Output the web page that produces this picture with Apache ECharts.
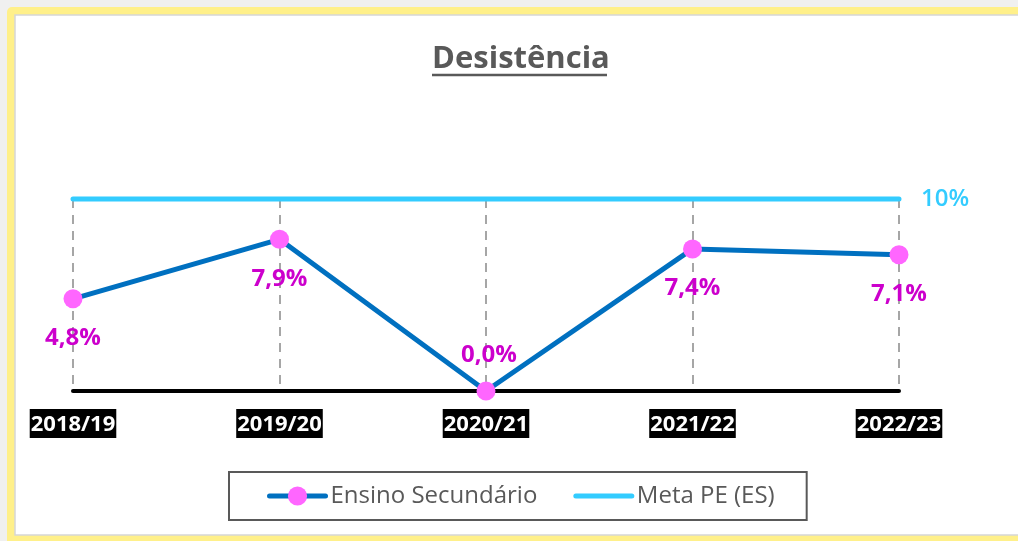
<!DOCTYPE html>
<html>
<head>
<meta charset="utf-8">
<style>
  html, body { margin: 0; padding: 0; background: #f0f0f0; }
  #chart { width: 1018px; height: 541px; }
</style>
<script src="https://cdn.jsdelivr.net/npm/echarts@6/dist/echarts.min.js"></script>
</head>
<body>
<div id="chart"></div>
<script>
// Dropout rate per school year, secondary education, vs. plan target
const categories = ['2018/19', '2019/20', '2020/21', '2021/22', '2022/23'];
const secundario = [4.8, 7.9, 0.0, 7.4, 7.1];
const meta = [10, 10, 10, 10, 10];
const metaLabel = '10%';

const FONT = '"Open Sans", "Noto Sans", sans-serif';
const fmt = v => v.toFixed(1).replace('.', ',') + '%';

const chart = echarts.init(document.getElementById('chart'), null, { renderer: 'canvas' });

chart.setOption({
  animation: false,
  backgroundColor: '#f0f0f0',
  graphic: [
    // yellow frame
    { type: 'rect', z: -10, silent: true,
      shape: { x: 7, y: 7, width: 1030, height: 560, r: 5 },
      style: { fill: '#fff08a' } },
    // white chart area
    { type: 'rect', z: -9, silent: true,
      shape: { x: 15, y: 15, width: 1020, height: 520 },
      style: { fill: '#ffffff', stroke: '#d6d6d6', lineWidth: 1.5 } },
    // title underline
    { type: 'line', z: 5, silent: true,
      shape: { x1: 432, y1: 75, x2: 607, y2: 75 },
      style: { stroke: '#595959', lineWidth: 2.5 } }
  ],
  title: {
    text: 'Desistência',
    left: 432,
    top: 44,
    padding: 0,
    textStyle: { fontFamily: FONT, fontSize: 31, fontWeight: 'bold', color: '#595959', lineHeight: 31 }
  },
  legend: {
    left: 229,
    top: 472,
    orient: 'horizontal',
    padding: [12, 32, 12, 38],
    itemGap: 36,
    itemWidth: 56,
    itemHeight: 24,
    borderColor: '#595959',
    borderWidth: 2,
    lineStyle: { width: 5, cap: 'round' },
    textStyle: { fontFamily: FONT, fontSize: 24, color: '#595959' },
    data: [
      { name: 'Ensino Secundário' },
      { name: 'Meta PE (ES)', itemStyle: { opacity: 0 } }
    ]
  },
  grid: { left: 73, right: 119, top: 199, bottom: 150, containLabel: false },
  xAxis: {
    type: 'category',
    data: categories,
    boundaryGap: false,
    axisLine: { show: true, lineStyle: { color: '#000000', width: 4 } },
    axisTick: { show: false },
    splitLine: { show: true, lineStyle: { color: '#a6a6a6', width: 2, type: [9, 7] } },
    axisLabel: {
      margin: 18,
      fontFamily: FONT,
      fontSize: 22,
      fontWeight: 'bold',
      color: '#ffffff',
      backgroundColor: '#000000',
      padding: [2, 1, 0, 1],
      lineHeight: 27
    }
  },
  yAxis: {
    type: 'value',
    min: 0,
    max: 10,
    show: false,
    splitLine: { show: false }
  },
  series: [
    {
      name: 'Meta PE (ES)',
      type: 'line',
      data: meta,
      clip: false,
      symbol: 'none',
      z: 2,
      lineStyle: { color: '#33ccff', width: 5, cap: 'round' },
      itemStyle: { color: '#33ccff' },
      endLabel: {
        show: true,
        formatter: () => metaLabel,
        distance: 22,
        fontFamily: FONT,
        fontSize: 24,
        fontWeight: 600,
        color: '#33ccff'
      }
    },
    {
      name: 'Ensino Secundário',
      type: 'line',
      data: secundario.map(v => ({
        value: v,
        label: v === 0 ? { position: 'top', distance: 14, offset: [3, 0] } : undefined
      })),
      clip: false,
      z: 3,
      symbol: 'circle',
      symbolSize: 19,
      lineStyle: { color: '#0070c0', width: 5, cap: 'round', join: 'round' },
      itemStyle: { color: '#ff66ff', borderWidth: 0 },
      label: {
        show: true,
        position: 'bottom',
        distance: 18,
        formatter: p => fmt(p.value),
        fontFamily: FONT,
        fontSize: 24,
        fontWeight: 'bold',
        color: '#cc00cc'
      }
    }
  ]
});
</script>
</body>
</html>
